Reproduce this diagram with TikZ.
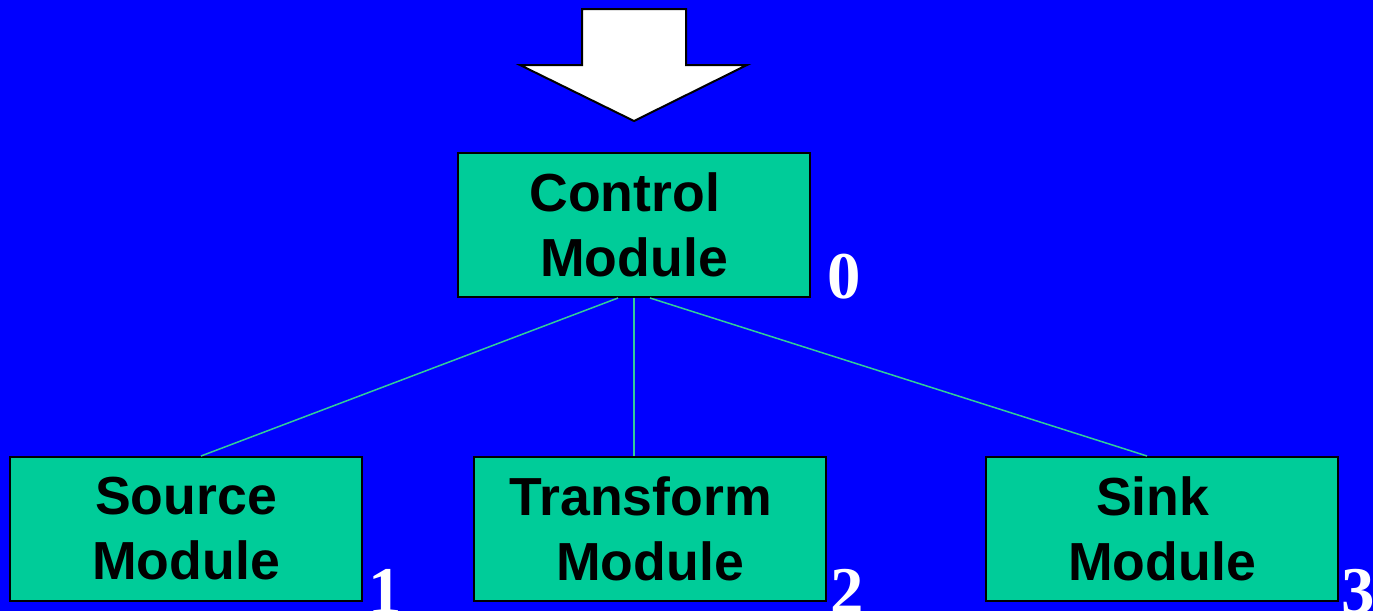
\documentclass[tikz,border=0pt]{standalone}
\usepackage{fontspec}
\usepackage{tikz}
\usetikzlibrary{positioning}
\newfontfamily\boxfont{Liberation Sans}
\newfontfamily\numfont{Liberation Serif}
\definecolor{bgblue}{RGB}{0,0,255}
\definecolor{modgreen}{RGB}{0,204,153}
\definecolor{linkgreen}{RGB}{51,204,153}
\tikzset{
  module/.style={draw=black,line width=0.4mm,fill=modgreen,minimum width=70.4mm,minimum height=28.8mm,
    align=center,inner sep=0pt,font=\boxfont\bfseries\fontsize{30.5}{37}\selectfont},
  modnum/.style={text=white,inner sep=0pt,font=\numfont\bfseries\fontsize{38}{38}\selectfont},
  link/.style={draw=linkgreen,line width=0.3mm}
}

\begin{document}
\begin{tikzpicture}[x=0.2mm,y=-0.2mm]
\useasboundingbox[fill=bgblue] (0,0) rectangle (1373,611);
\draw[fill=white,line width=0.4mm] (582,9) -- (686,9) -- (686,65) -- (747,65) -- (634,121) -- (520,65) -- (582,65) -- cycle;
\node[module] (ctrl) at (634,225) {Control\hspace*{0.35em}\\Module};
\node[module] (trans) [below=31.6mm of ctrl,xshift=3.2mm] {Transform\hspace*{0.35em}\\Module};
\node[module] (source) [left=22mm of trans] {Source\\Module};
\node[module] (sink) [right=31.6mm of trans] {Sink\hspace*{0.35em}\\Module};
\node[modnum,anchor=base west] (n0) at ([xshift=3.2mm]ctrl.south east) {0};
\node[modnum,anchor=base west] (n1) at ([xshift=1mm,yshift=-2.2mm]source.south east) {1};
\node[modnum,anchor=base west] (n2) at ([xshift=0.6mm,yshift=-2.2mm]trans.south east) {2};
\node[modnum,anchor=base west] (n3) at ([xshift=0.4mm,yshift=-2.2mm]sink.south east) {3};
\path[link] ([xshift=-3.2mm]ctrl.south) -- ([xshift=3mm]source.north);
\path[link] (ctrl.south) -- ([xshift=-3.2mm]trans.north);
\path[link] ([xshift=3.2mm]ctrl.south) -- ([xshift=-3mm]sink.north);
\end{tikzpicture}
\end{document}
